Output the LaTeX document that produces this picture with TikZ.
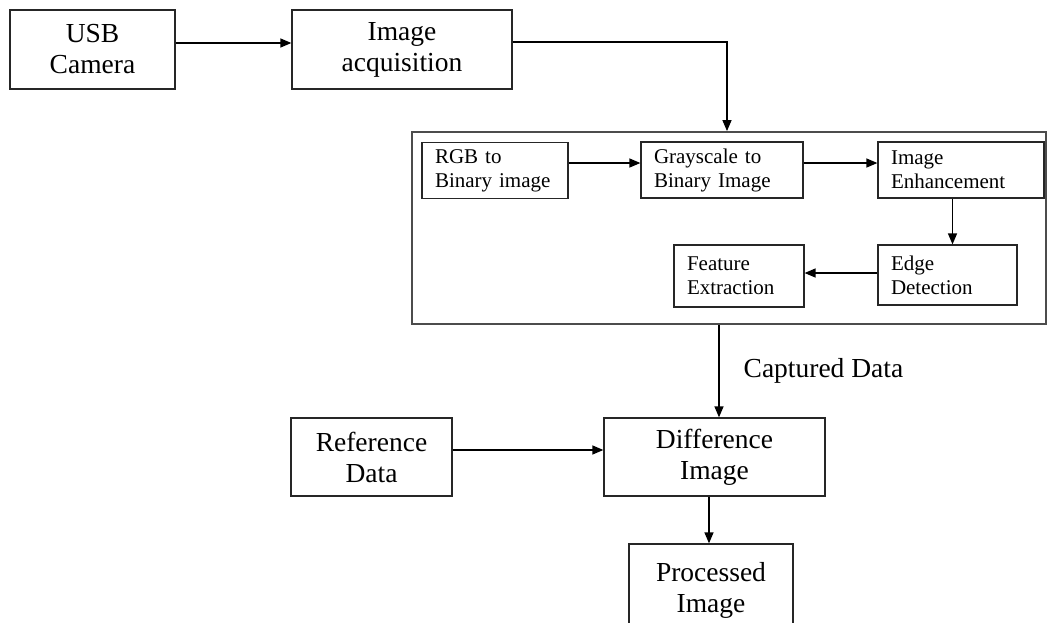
\documentclass[tikz,border=0pt]{standalone}
\usepackage{fontspec}
\setmainfont{Liberation Serif}
\usetikzlibrary{positioning}
\usetikzlibrary{arrows.meta}

\begin{document}
\begin{tikzpicture}[
            x=1pt, y=-1pt,
            block/.style={
                draw=black!85,
                line width=1.3pt,
                align=center,
                inner sep=0pt,
                minimum height=79pt,
                font=\fontsize{27.5}{31}\selectfont
            },
            inblock/.style={
                draw=black!85,
                line width=1.2pt,
                align=left,
                inner xsep=13pt,
                inner ysep=0pt,
                minimum height=56pt,
                font=\fontsize{21}{24}\selectfont
            },
            frame/.style={
                draw=black!70,
                line width=1.8pt,
                inner sep=0pt
            },
            arr/.style={
                -{Triangle[length=11pt,width=9pt]},
                line width=1.3pt
            }
        ]

        \useasboundingbox (0,0) rectangle (1049,622);

        \node[block, minimum width=165pt] (camera) at (92.5,49.5) {USB\\Camera};
        \node[block, minimum width=220pt] (acquisition) at (402,49.5) {Image\\acquisition};

        % processing stage
        \node[frame, minimum width=634pt, minimum height=192pt] (stage) at (729,228) {};

        \node[inblock, text width=120pt] (rgb) at (495,170.5) {RGB to\\Binary image};
        \node[inblock, text width=136pt] (gray) at (722,170) {Grayscale to\\Binary Image};
        \node[inblock, text width=140pt] (enhance) at (961,170) {Image\\Enhancement};
        \node[inblock, text width=113pt, minimum height=60pt] (edge) at (947.5,275) {Edge\\Detection};
        \node[inblock, text width=104pt, minimum height=62pt] (feature) at (739,276) {Feature\\Extraction};

        \node[block, minimum width=161pt, minimum height=78pt] (reference) at (371.5,457) {Reference\\Data};
        \node[block, minimum width=221pt, minimum height=78pt] (difference) at (714.5,457) {Difference\\Image};
        \node[block, minimum width=164pt, minimum height=92pt] (processed) at (711,590) {Processed\\Image};

        \draw[arr] ([yshift=6.5pt]camera.east) -- ([yshift=6.5pt]acquisition.west);
        \draw[arr] ([yshift=7.5pt]acquisition.east) -| ([xshift=-2pt]stage.north);
        \draw[arr] ([yshift=7.5pt]rgb.east) -- ([yshift=7pt]gray.west);
        \draw[arr] ([yshift=7pt]gray.east) -- ([yshift=7pt]enhance.west);
        \draw[arr] ([xshift=5pt]edge.north |- enhance.south) -- ([xshift=5pt]edge.north);
        \draw[arr] ([yshift=2pt]edge.west) -- ([yshift=2pt]edge.west -| feature.east);
        \draw[arr] ([xshift=-10pt]stage.south) -- ([xshift=-10pt]stage.south |- difference.north)
            node[midway, right=24pt, inner sep=0pt, font=\fontsize{27.5}{31}\selectfont] (captured) {Captured Data};
        \draw[arr] ([yshift=7pt]reference.east) -- ([yshift=7pt]difference.west);
        \draw[arr] ([xshift=-5.5pt]difference.south) -- ([xshift=-5.5pt]difference.south |- processed.north);

    \end{tikzpicture}
\end{document}
